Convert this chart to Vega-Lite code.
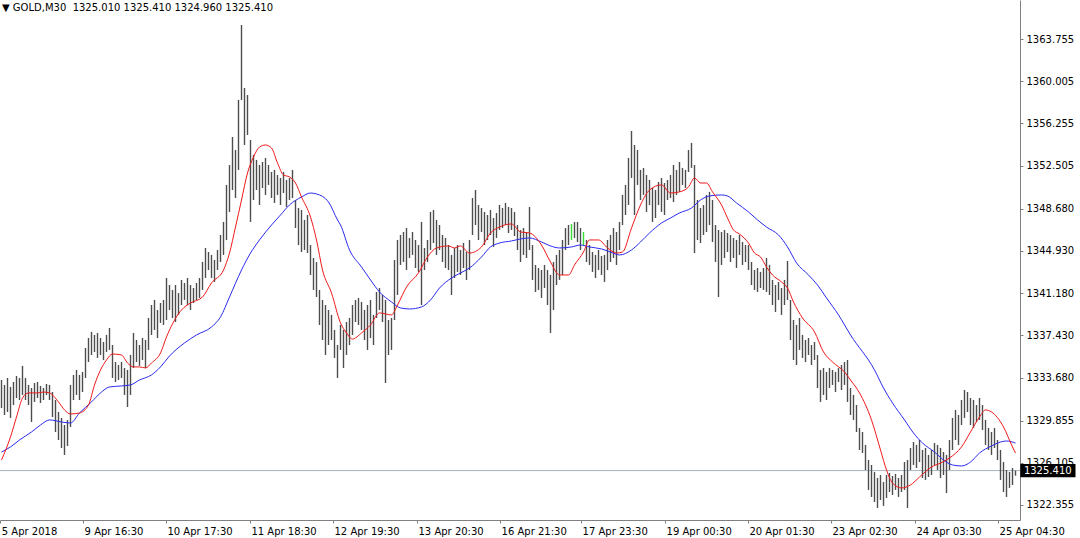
{
  "$schema": "https://vega.github.io/schema/vega-lite/v6.json",
  "width": 1020,
  "height": 520,
  "autosize": {"type": "none"},
  "padding": {"left": 0, "top": 0, "right": 60, "bottom": 18},
  "background": "white",
  "config": {"view": {"stroke": null}, "font": "DejaVu Sans"},
  "title": {"text": "▼ GOLD,M30\u00a0\u00a01325.010 1325.410 1324.960 1325.410", "anchor": "start", "frame": "group", "orient": "top", "offset": -13, "baseline": "top", "dx": 2, "fontSize": 10, "fontWeight": "normal", "font": "DejaVu Sans", "color": "#000000"},
  "datasets": {
    "bars": [
      {"i":0,"h":1333.46,"l":1330.97},{"i":1,"h":1333.02,"l":1330.35},{"i":2,"h":1333.64,"l":1330.62},{"i":3,"h":1332.84,"l":1330.09},{"i":4,"h":1333.28,"l":1331.24},{"i":5,"h":1333.82,"l":1331.86},{"i":6,"h":1333.64,"l":1331.68},{"i":7,"h":1334.71,"l":1332.13},{"i":8,"h":1333.64,"l":1331.68},{"i":9,"h":1333.02,"l":1331.24},
      {"i":10,"h":1332.75,"l":1329.73},{"i":11,"h":1333.19,"l":1331.51},{"i":12,"h":1333.28,"l":1331.86},{"i":13,"h":1332.93,"l":1331.42},{"i":14,"h":1332.75,"l":1331.68},{"i":15,"h":1333.11,"l":1332.13},{"i":16,"h":1333.02,"l":1331.68},{"i":17,"h":1332.39,"l":1330.17},{"i":18,"h":1331.68,"l":1328.84},{"i":19,"h":1330.62,"l":1328.13},
      {"i":20,"h":1330.09,"l":1327.42},{"i":21,"h":1329.46,"l":1326.80},{"i":22,"h":1329.91,"l":1327.60},{"i":23,"h":1333.02,"l":1329.29},{"i":24,"h":1333.91,"l":1331.68},{"i":25,"h":1334.35,"l":1332.13},{"i":26,"h":1333.91,"l":1331.68},{"i":27,"h":1334.17,"l":1332.39},{"i":28,"h":1336.30,"l":1333.64},{"i":29,"h":1337.19,"l":1335.06},
      {"i":30,"h":1337.73,"l":1335.68},{"i":31,"h":1337.46,"l":1335.95},{"i":32,"h":1337.64,"l":1335.42},{"i":33,"h":1337.19,"l":1335.68},{"i":34,"h":1336.84,"l":1335.24},{"i":35,"h":1337.46,"l":1335.95},{"i":36,"h":1338.08,"l":1336.13},{"i":37,"h":1336.57,"l":1333.64},{"i":38,"h":1335.06,"l":1333.28},{"i":39,"h":1334.79,"l":1333.46},
      {"i":40,"h":1335.06,"l":1333.64},{"i":41,"h":1334.53,"l":1332.13},{"i":42,"h":1334.35,"l":1331.06},{"i":43,"h":1335.68,"l":1332.13},{"i":44,"h":1337.64,"l":1334.53},{"i":45,"h":1337.01,"l":1335.06},{"i":46,"h":1336.57,"l":1334.71},{"i":47,"h":1337.19,"l":1335.24},{"i":48,"h":1337.01,"l":1334.53},{"i":49,"h":1338.97,"l":1336.13},
      {"i":50,"h":1340.12,"l":1337.46},{"i":51,"h":1340.57,"l":1337.90},{"i":52,"h":1339.68,"l":1337.19},{"i":53,"h":1340.30,"l":1338.53},{"i":54,"h":1340.57,"l":1338.35},{"i":55,"h":1342.52,"l":1338.79},{"i":56,"h":1341.90,"l":1339.68},{"i":57,"h":1341.46,"l":1338.97},{"i":58,"h":1341.90,"l":1338.61},{"i":59,"h":1341.19,"l":1339.24},
      {"i":60,"h":1342.35,"l":1340.12},{"i":61,"h":1342.08,"l":1340.57},{"i":62,"h":1342.52,"l":1340.12},{"i":63,"h":1341.90,"l":1339.68},{"i":64,"h":1341.63,"l":1340.30},{"i":65,"h":1342.08,"l":1340.57},{"i":66,"h":1342.52,"l":1340.75},{"i":67,"h":1343.94,"l":1341.46},{"i":68,"h":1345.19,"l":1342.52},{"i":69,"h":1344.83,"l":1343.23},
      {"i":70,"h":1344.57,"l":1342.52},{"i":71,"h":1344.12,"l":1342.17},{"i":72,"h":1345.01,"l":1343.23},{"i":73,"h":1346.34,"l":1343.94},{"i":74,"h":1347.50,"l":1344.57},{"i":75,"h":1350.79,"l":1345.90},{"i":76,"h":1352.56,"l":1348.39},{"i":77,"h":1355.05,"l":1350.34},{"i":78,"h":1353.89,"l":1349.63},{"i":79,"h":1358.34,"l":1352.12},
      {"i":80,"h":1365.00,"l":1358.34},{"i":81,"h":1359.40,"l":1354.34},{"i":82,"h":1358.78,"l":1355.23},{"i":83,"h":1354.78,"l":1347.50},{"i":84,"h":1353.45,"l":1349.45},{"i":85,"h":1353.01,"l":1350.34},{"i":86,"h":1352.56,"l":1349.01},{"i":87,"h":1352.83,"l":1350.52},{"i":88,"h":1353.18,"l":1349.90},{"i":89,"h":1352.56,"l":1350.79},
      {"i":90,"h":1351.94,"l":1349.63},{"i":91,"h":1352.12,"l":1349.19},{"i":92,"h":1351.67,"l":1349.90},{"i":93,"h":1351.41,"l":1349.01},{"i":94,"h":1351.94,"l":1350.07},{"i":95,"h":1351.23,"l":1348.83},{"i":96,"h":1351.41,"l":1349.45},{"i":97,"h":1352.12,"l":1349.63},{"i":98,"h":1349.45,"l":1346.96},{"i":99,"h":1348.74,"l":1345.45},
      {"i":100,"h":1348.56,"l":1344.83},{"i":101,"h":1347.68,"l":1345.01},{"i":102,"h":1348.12,"l":1344.74},{"i":103,"h":1345.45,"l":1342.79},{"i":104,"h":1344.30,"l":1341.46},{"i":105,"h":1343.94,"l":1340.83},{"i":106,"h":1341.46,"l":1338.35},{"i":107,"h":1340.57,"l":1337.01},{"i":108,"h":1340.12,"l":1335.68},{"i":109,"h":1339.68,"l":1336.57},
      {"i":110,"h":1339.24,"l":1337.01},{"i":111,"h":1337.90,"l":1335.42},{"i":112,"h":1336.57,"l":1333.64},{"i":113,"h":1338.35,"l":1336.13},{"i":114,"h":1337.90,"l":1334.53},{"i":115,"h":1338.61,"l":1335.68},{"i":116,"h":1338.97,"l":1336.57},{"i":117,"h":1340.12,"l":1337.46},{"i":118,"h":1340.57,"l":1338.61},{"i":119,"h":1340.75,"l":1338.35},
      {"i":120,"h":1340.39,"l":1337.90},{"i":121,"h":1339.68,"l":1337.01},{"i":122,"h":1340.12,"l":1336.13},{"i":123,"h":1340.57,"l":1337.19},{"i":124,"h":1339.24,"l":1336.57},{"i":125,"h":1341.28,"l":1338.97},{"i":126,"h":1341.63,"l":1339.68},{"i":127,"h":1341.01,"l":1338.61},{"i":128,"h":1340.57,"l":1333.19},{"i":129,"h":1338.79,"l":1335.68},
      {"i":130,"h":1338.97,"l":1336.13},{"i":131,"h":1344.12,"l":1338.79},{"i":132,"h":1345.90,"l":1341.01},{"i":133,"h":1346.34,"l":1343.68},{"i":134,"h":1346.61,"l":1343.94},{"i":135,"h":1346.96,"l":1343.23},{"i":136,"h":1346.08,"l":1344.30},{"i":137,"h":1346.61,"l":1344.57},{"i":138,"h":1345.90,"l":1343.41},{"i":139,"h":1345.45,"l":1343.06},
      {"i":140,"h":1347.50,"l":1340.12},{"i":141,"h":1345.19,"l":1343.23},{"i":142,"h":1345.90,"l":1343.94},{"i":143,"h":1348.39,"l":1345.01},{"i":144,"h":1348.56,"l":1345.63},{"i":145,"h":1347.68,"l":1344.57},{"i":146,"h":1347.23,"l":1345.01},{"i":147,"h":1346.34,"l":1343.94},{"i":148,"h":1346.08,"l":1343.41},{"i":149,"h":1345.45,"l":1343.23},
      {"i":150,"h":1344.57,"l":1341.01},{"i":151,"h":1345.19,"l":1342.52},{"i":152,"h":1345.45,"l":1343.06},{"i":153,"h":1345.01,"l":1342.79},{"i":154,"h":1345.63,"l":1343.41},{"i":155,"h":1344.83,"l":1342.35},{"i":156,"h":1345.90,"l":1343.23},{"i":157,"h":1349.63,"l":1346.34},{"i":158,"h":1350.34,"l":1347.23},{"i":159,"h":1349.01,"l":1345.90},
      {"i":160,"h":1348.74,"l":1346.61},{"i":161,"h":1348.39,"l":1345.45},{"i":162,"h":1348.12,"l":1345.90},{"i":163,"h":1348.56,"l":1346.34},{"i":164,"h":1347.85,"l":1345.28},{"i":165,"h":1348.30,"l":1346.08},{"i":166,"h":1349.01,"l":1346.79},{"i":167,"h":1348.74,"l":1346.96},{"i":168,"h":1349.19,"l":1347.23},{"i":169,"h":1348.83,"l":1346.52},
      {"i":170,"h":1348.74,"l":1346.79},{"i":171,"h":1348.39,"l":1346.25},{"i":172,"h":1347.23,"l":1345.01},{"i":173,"h":1346.79,"l":1343.94},{"i":174,"h":1346.96,"l":1344.57},{"i":175,"h":1346.61,"l":1344.30},{"i":176,"h":1348.83,"l":1345.01},{"i":177,"h":1345.45,"l":1342.35},{"i":178,"h":1343.68,"l":1341.28},{"i":179,"h":1343.41,"l":1341.46},
      {"i":180,"h":1343.23,"l":1340.75},{"i":181,"h":1343.68,"l":1341.63},{"i":182,"h":1343.23,"l":1340.12},{"i":183,"h":1342.79,"l":1337.64},{"i":184,"h":1343.94,"l":1339.68},{"i":185,"h":1344.57,"l":1341.90},{"i":186,"h":1345.01,"l":1342.35},{"i":187,"h":1345.90,"l":1342.79},{"i":188,"h":1346.96,"l":1345.01},{"i":189,"h":1347.23,"l":1345.45},
      {"i":190,"h":1347.32,"l":1345.90},{"i":191,"h":1347.50,"l":1346.08},{"i":192,"h":1347.50,"l":1345.72},{"i":193,"h":1346.96,"l":1345.01},{"i":194,"h":1346.61,"l":1345.45},{"i":195,"h":1345.90,"l":1343.94},{"i":196,"h":1345.45,"l":1343.68},{"i":197,"h":1344.83,"l":1343.06},{"i":198,"h":1344.57,"l":1342.52},{"i":199,"h":1345.01,"l":1343.23},
      {"i":200,"h":1344.48,"l":1342.79},{"i":201,"h":1344.57,"l":1342.17},{"i":202,"h":1345.90,"l":1343.23},{"i":203,"h":1346.34,"l":1343.94},{"i":204,"h":1346.96,"l":1344.30},{"i":205,"h":1346.61,"l":1343.68},{"i":206,"h":1347.50,"l":1345.01},{"i":207,"h":1349.90,"l":1347.23},{"i":208,"h":1350.79,"l":1348.12},{"i":209,"h":1353.18,"l":1349.01},
      {"i":210,"h":1355.58,"l":1351.41},{"i":211,"h":1354.34,"l":1348.12},{"i":212,"h":1353.89,"l":1350.79},{"i":213,"h":1352.12,"l":1349.45},{"i":214,"h":1352.30,"l":1349.90},{"i":215,"h":1351.67,"l":1348.39},{"i":216,"h":1351.23,"l":1349.01},{"i":217,"h":1350.52,"l":1347.50},{"i":218,"h":1350.34,"l":1347.85},{"i":219,"h":1351.05,"l":1349.01},
      {"i":220,"h":1351.41,"l":1348.39},{"i":221,"h":1350.96,"l":1348.12},{"i":222,"h":1351.23,"l":1349.45},{"i":223,"h":1351.67,"l":1349.63},{"i":224,"h":1352.56,"l":1349.27},{"i":225,"h":1352.12,"l":1349.90},{"i":226,"h":1352.83,"l":1350.17},{"i":227,"h":1352.30,"l":1350.79},{"i":228,"h":1352.12,"l":1350.52},{"i":229,"h":1353.89,"l":1351.94},
      {"i":230,"h":1354.52,"l":1352.30},{"i":231,"h":1352.56,"l":1344.74},{"i":232,"h":1349.45,"l":1345.90},{"i":233,"h":1348.74,"l":1345.63},{"i":234,"h":1349.01,"l":1346.34},{"i":235,"h":1349.90,"l":1346.61},{"i":236,"h":1350.17,"l":1347.23},{"i":237,"h":1349.45,"l":1345.72},{"i":238,"h":1347.23,"l":1343.94},{"i":239,"h":1346.79,"l":1340.83},
      {"i":240,"h":1346.61,"l":1343.68},{"i":241,"h":1346.79,"l":1344.30},{"i":242,"h":1346.52,"l":1344.83},{"i":243,"h":1346.34,"l":1343.94},{"i":244,"h":1346.08,"l":1344.30},{"i":245,"h":1345.90,"l":1343.41},{"i":246,"h":1346.34,"l":1344.57},{"i":247,"h":1345.72,"l":1343.68},{"i":248,"h":1345.45,"l":1343.94},{"i":249,"h":1345.45,"l":1343.23},
      {"i":250,"h":1343.94,"l":1341.90},{"i":251,"h":1343.23,"l":1341.46},{"i":252,"h":1343.41,"l":1341.28},{"i":253,"h":1343.06,"l":1341.63},{"i":254,"h":1343.41,"l":1341.46},{"i":255,"h":1344.30,"l":1341.28},{"i":256,"h":1343.68,"l":1341.01},{"i":257,"h":1342.35,"l":1340.12},{"i":258,"h":1341.90,"l":1339.50},{"i":259,"h":1342.17,"l":1340.57},
      {"i":260,"h":1341.63,"l":1339.24},{"i":261,"h":1342.35,"l":1340.12},{"i":262,"h":1344.03,"l":1340.57},{"i":263,"h":1340.57,"l":1337.01},{"i":264,"h":1338.79,"l":1335.24},{"i":265,"h":1338.35,"l":1334.79},{"i":266,"h":1338.97,"l":1336.13},{"i":267,"h":1337.46,"l":1335.42},{"i":268,"h":1337.01,"l":1335.06},{"i":269,"h":1337.19,"l":1335.68},
      {"i":270,"h":1336.57,"l":1334.79},{"i":271,"h":1336.84,"l":1335.24},{"i":272,"h":1335.68,"l":1332.75},{"i":273,"h":1334.35,"l":1331.51},{"i":274,"h":1334.53,"l":1332.13},{"i":275,"h":1334.17,"l":1331.68},{"i":276,"h":1334.53,"l":1332.75},{"i":277,"h":1334.35,"l":1333.02},{"i":278,"h":1334.17,"l":1332.39},{"i":279,"h":1334.53,"l":1333.28},
      {"i":280,"h":1334.79,"l":1332.57},{"i":281,"h":1335.06,"l":1333.02},{"i":282,"h":1335.24,"l":1331.51},{"i":283,"h":1332.75,"l":1330.35},{"i":284,"h":1332.13,"l":1329.91},{"i":285,"h":1331.24,"l":1328.84},{"i":286,"h":1329.20,"l":1327.24},{"i":287,"h":1328.84,"l":1326.97},{"i":288,"h":1327.69,"l":1325.46},{"i":289,"h":1326.35,"l":1323.69},
      {"i":290,"h":1325.91,"l":1323.07},{"i":291,"h":1325.29,"l":1322.62},{"i":292,"h":1324.75,"l":1322.09},{"i":293,"h":1325.02,"l":1322.80},{"i":294,"h":1324.40,"l":1322.27},{"i":295,"h":1325.02,"l":1322.98},{"i":296,"h":1325.20,"l":1323.51},{"i":297,"h":1324.93,"l":1323.24},{"i":298,"h":1325.11,"l":1323.69},{"i":299,"h":1324.75,"l":1323.07},
      {"i":300,"h":1325.02,"l":1323.51},{"i":301,"h":1326.17,"l":1323.69},{"i":302,"h":1326.35,"l":1322.09},{"i":303,"h":1327.42,"l":1325.46},{"i":304,"h":1327.95,"l":1325.91},{"i":305,"h":1327.69,"l":1325.64},{"i":306,"h":1328.13,"l":1326.17},{"i":307,"h":1327.24,"l":1324.75},{"i":308,"h":1327.42,"l":1324.58},{"i":309,"h":1326.80,"l":1324.84},
      {"i":310,"h":1327.24,"l":1325.02},{"i":311,"h":1327.86,"l":1325.91},{"i":312,"h":1327.69,"l":1325.46},{"i":313,"h":1327.42,"l":1324.75},{"i":314,"h":1327.06,"l":1325.02},{"i":315,"h":1326.80,"l":1323.42},{"i":316,"h":1328.13,"l":1325.46},{"i":317,"h":1330.09,"l":1327.24},{"i":318,"h":1330.80,"l":1328.13},{"i":319,"h":1330.35,"l":1327.69},
      {"i":320,"h":1331.68,"l":1329.46},{"i":321,"h":1332.57,"l":1330.09},{"i":322,"h":1332.39,"l":1330.62},{"i":323,"h":1331.86,"l":1329.46},{"i":324,"h":1331.68,"l":1329.20},{"i":325,"h":1331.24,"l":1329.73},{"i":326,"h":1331.86,"l":1329.91},{"i":327,"h":1331.24,"l":1329.02},{"i":328,"h":1329.91,"l":1327.69},{"i":329,"h":1329.20,"l":1327.24},
      {"i":330,"h":1328.84,"l":1326.80},{"i":331,"h":1329.20,"l":1327.42},{"i":332,"h":1328.13,"l":1326.35},{"i":333,"h":1327.24,"l":1324.58},{"i":334,"h":1326.17,"l":1323.51},{"i":335,"h":1325.46,"l":1323.07},{"i":336,"h":1325.29,"l":1323.87},{"i":337,"h":1325.64,"l":1324.13},{"i":338,"h":1325.41,"l":1324.96}
    ],
    "fast": [
      {"i":0,"v":1326.35},{"i":3,"v":1328.40},{"i":5,"v":1330.17},{"i":7,"v":1331.86},{"i":9,"v":1332.31},{"i":12,"v":1332.31},{"i":14,"v":1332.39},{"i":16,"v":1332.31},{"i":19,"v":1331.51},{"i":21,"v":1330.80},
      {"i":23,"v":1330.44},{"i":26,"v":1330.53},{"i":29,"v":1331.24},{"i":31,"v":1333.02},{"i":33,"v":1334.35},{"i":35,"v":1335.24},{"i":37,"v":1335.77},{"i":40,"v":1335.68},{"i":42,"v":1334.97},{"i":44,"v":1334.62},
      {"i":46,"v":1334.62},{"i":48,"v":1334.53},{"i":50,"v":1334.97},{"i":53,"v":1335.86},{"i":55,"v":1337.28},{"i":56,"v":1337.90},{"i":60,"v":1339.68},{"i":63,"v":1340.30},{"i":67,"v":1340.83},{"i":70,"v":1342.08},
      {"i":74,"v":1343.23},{"i":76,"v":1344.74},{"i":78,"v":1347.05},{"i":80,"v":1349.45},{"i":82,"v":1351.85},{"i":84,"v":1353.27},{"i":86,"v":1354.16},{"i":88,"v":1354.34},{"i":90,"v":1354.07},{"i":92,"v":1352.74},
      {"i":94,"v":1351.67},{"i":96,"v":1351.50},{"i":98,"v":1350.96},{"i":100,"v":1349.72},{"i":103,"v":1347.94},{"i":105,"v":1345.90},{"i":107,"v":1343.23},{"i":110,"v":1341.19},{"i":113,"v":1338.53},{"i":115,"v":1337.64},
      {"i":117,"v":1337.10},{"i":120,"v":1337.64},{"i":123,"v":1338.35},{"i":126,"v":1339.42},{"i":130,"v":1339.24},{"i":132,"v":1340.12},{"i":135,"v":1341.72},{"i":139,"v":1342.97},{"i":142,"v":1344.39},{"i":145,"v":1345.19},
      {"i":149,"v":1345.37},{"i":151,"v":1345.19},{"i":153,"v":1345.37},{"i":156,"v":1344.74},{"i":160,"v":1345.28},{"i":163,"v":1346.52},{"i":166,"v":1347.05},{"i":170,"v":1347.32},{"i":173,"v":1346.61},{"i":176,"v":1346.52},
      {"i":180,"v":1345.45},{"i":183,"v":1343.94},{"i":186,"v":1342.79},{"i":189,"v":1342.79},{"i":191,"v":1343.68},{"i":194,"v":1344.83},{"i":196,"v":1345.90},{"i":199,"v":1345.90},{"i":202,"v":1345.19},{"i":205,"v":1344.74},
      {"i":207,"v":1344.83},{"i":210,"v":1346.96},{"i":213,"v":1349.01},{"i":216,"v":1350.34},{"i":220,"v":1350.79},{"i":223,"v":1350.07},{"i":226,"v":1350.17},{"i":229,"v":1350.61},{"i":231,"v":1351.41},{"i":233,"v":1350.96},
      {"i":235,"v":1350.96},{"i":237,"v":1350.17},{"i":240,"v":1349.01},{"i":242,"v":1347.85},{"i":244,"v":1346.79},{"i":246,"v":1346.43},{"i":249,"v":1345.63},{"i":251,"v":1344.74},{"i":253,"v":1344.39},{"i":255,"v":1343.50},
      {"i":257,"v":1342.79},{"i":260,"v":1342.17},{"i":262,"v":1341.63},{"i":264,"v":1340.39},{"i":267,"v":1338.97},{"i":271,"v":1337.73},{"i":274,"v":1335.95},{"i":277,"v":1335.06},{"i":281,"v":1334.17},{"i":283,"v":1333.46},
      {"i":286,"v":1332.31},{"i":290,"v":1329.91},{"i":293,"v":1327.24},{"i":295,"v":1325.46},{"i":297,"v":1324.31},{"i":300,"v":1323.87},{"i":303,"v":1324.13},{"i":306,"v":1324.84},{"i":310,"v":1325.73},{"i":313,"v":1326.08},
      {"i":316,"v":1326.53},{"i":320,"v":1327.51},{"i":323,"v":1328.84},{"i":326,"v":1330.17},{"i":328,"v":1330.80},{"i":330,"v":1330.62},{"i":334,"v":1329.29},{"i":337,"v":1327.51},{"i":338,"v":1326.97}
    ],
    "slow": [
      {"i":0,"v":1327.06},{"i":3,"v":1327.51},{"i":6,"v":1328.13},{"i":10,"v":1328.84},{"i":13,"v":1329.46},{"i":16,"v":1329.91},{"i":20,"v":1329.73},{"i":23,"v":1329.64},{"i":26,"v":1330.53},{"i":30,"v":1331.51},
      {"i":33,"v":1332.31},{"i":36,"v":1332.84},{"i":40,"v":1332.93},{"i":43,"v":1333.02},{"i":46,"v":1333.46},{"i":50,"v":1333.91},{"i":53,"v":1334.62},{"i":56,"v":1335.59},{"i":61,"v":1336.75},{"i":65,"v":1337.46},
      {"i":70,"v":1338.17},{"i":73,"v":1339.06},{"i":76,"v":1340.83},{"i":80,"v":1343.23},{"i":83,"v":1344.74},{"i":86,"v":1345.90},{"i":90,"v":1347.23},{"i":93,"v":1348.12},{"i":96,"v":1349.01},{"i":100,"v":1349.72},
      {"i":103,"v":1350.07},{"i":105,"v":1349.99},{"i":109,"v":1349.27},{"i":112,"v":1347.68},{"i":113,"v":1347.23},{"i":116,"v":1345.01},{"i":120,"v":1343.50},{"i":123,"v":1342.35},{"i":126,"v":1341.28},{"i":130,"v":1340.39},
      {"i":133,"v":1339.86},{"i":136,"v":1339.77},{"i":140,"v":1339.95},{"i":143,"v":1340.57},{"i":146,"v":1341.63},{"i":150,"v":1342.52},{"i":153,"v":1342.97},{"i":156,"v":1343.41},{"i":160,"v":1344.39},{"i":163,"v":1345.28},
      {"i":166,"v":1345.63},{"i":170,"v":1345.81},{"i":173,"v":1345.99},{"i":176,"v":1346.08},{"i":180,"v":1345.72},{"i":183,"v":1345.37},{"i":186,"v":1345.19},{"i":190,"v":1345.28},{"i":193,"v":1345.45},{"i":196,"v":1345.28},
      {"i":200,"v":1345.10},{"i":203,"v":1344.83},{"i":206,"v":1344.57},{"i":210,"v":1345.01},{"i":213,"v":1345.72},{"i":216,"v":1346.52},{"i":220,"v":1347.41},{"i":223,"v":1347.85},{"i":226,"v":1348.30},{"i":230,"v":1348.74},
      {"i":233,"v":1349.45},{"i":236,"v":1349.81},{"i":240,"v":1349.90},{"i":242,"v":1349.81},{"i":245,"v":1349.19},{"i":249,"v":1348.39},{"i":252,"v":1347.68},{"i":255,"v":1347.05},{"i":259,"v":1346.34},{"i":262,"v":1345.28},
      {"i":265,"v":1343.86},{"i":269,"v":1342.79},{"i":272,"v":1341.90},{"i":275,"v":1340.75},{"i":279,"v":1339.24},{"i":283,"v":1337.46},{"i":291,"v":1334.35},{"i":294,"v":1332.75},{"i":297,"v":1331.42},{"i":301,"v":1329.91},
      {"i":304,"v":1328.75},{"i":307,"v":1327.86},{"i":311,"v":1327.06},{"i":314,"v":1326.35},{"i":317,"v":1325.91},{"i":320,"v":1325.82},{"i":323,"v":1326.17},{"i":326,"v":1326.97},{"i":330,"v":1327.60},{"i":333,"v":1327.95},
      {"i":335,"v":1328.04},{"i":338,"v":1327.86}
    ],
    "bid": [{"price": 1325.41, "label": "1325.410"}]
  },
  "layer": [
    {
      "data": {"name": "bid"},
      "mark": {"type": "rule", "color": "#aab2bb", "strokeWidth": 1},
      "encoding": {"y": {"field": "price", "type": "quantitative", "scale": {"domain": [1321.02, 1367.22], "nice": false, "zero": false}}}
    },
    {
      "data": {"name": "bars"},
      "mark": {"type": "rule", "strokeWidth": 1.4},
      "encoding": {
        "x": {
          "field": "i", "type": "quantitative",
          "scale": {"domain": [-0.5, 339.5], "nice": false, "zero": false},
          "axis": {
            "orient": "bottom", "title": null, "grid": false,
            "values": [-0.4, 27.2, 54.8, 82.8, 110.5, 138.5, 166.2, 193.2, 221.2, 248.8, 276.5, 304.5, 332.2],
            "labelExpr": "datum.value < 10 ? '5 Apr 2018' : datum.value < 40 ? '9 Apr 16:30' : datum.value < 70 ? '10 Apr 17:30' : datum.value < 100 ? '11 Apr 18:30' : datum.value < 120 ? '12 Apr 19:30' : datum.value < 150 ? '13 Apr 20:30' : datum.value < 180 ? '16 Apr 21:30' : datum.value < 210 ? '17 Apr 23:30' : datum.value < 235 ? '19 Apr 00:30' : datum.value < 260 ? '20 Apr 01:30' : datum.value < 290 ? '23 Apr 02:30' : datum.value < 320 ? '24 Apr 03:30' : '25 Apr 04:30'",
            "labelAlign": "left", "labelBaseline": "top", "labelPadding": 3, "labelOffset": 1,
            "labelFontSize": 10, "labelFont": "DejaVu Sans", "labelColor": "#000000",
            "labelOverlap": false, "labelFlush": false, "labelBound": false,
            "tickSize": 3, "tickColor": "#808080", "domainColor": "#808080", "domainWidth": 1
          }
        },
        "y": {
          "field": "h", "type": "quantitative",
          "scale": {"domain": [1321.02, 1367.22], "nice": false, "zero": false},
          "axis": {
            "orient": "right", "title": null, "grid": false,
            "values": [1363.755, 1360.005, 1356.255, 1352.505, 1348.68, 1344.93, 1341.18, 1337.43, 1333.68, 1329.855, 1326.105, 1322.355],
            "format": ".3f",
            "labelFontSize": 10, "labelFont": "DejaVu Sans", "labelColor": "#000000",
            "labelPadding": 3, "labelOverlap": false, "labelFlush": false,
            "tickSize": 3, "tickColor": "#808080", "domainColor": "#808080", "domainWidth": 1
          }
        },
        "y2": {"field": "l"},
        "color": {"condition": {"test": "datum.i == 190 || datum.i == 194", "value": "#33dd33"}, "value": "#4d4d4d"}
      }
    },
    {
      "data": {"name": "slow"},
      "mark": {"type": "line", "color": "#2a2af0", "strokeWidth": 1, "interpolate": "monotone"},
      "encoding": {"x": {"field": "i", "type": "quantitative"}, "y": {"field": "v", "type": "quantitative"}}
    },
    {
      "data": {"name": "fast"},
      "mark": {"type": "line", "color": "#f01a1a", "strokeWidth": 1, "interpolate": "monotone"},
      "encoding": {"x": {"field": "i", "type": "quantitative"}, "y": {"field": "v", "type": "quantitative"}}
    },
    {
      "data": {"name": "bid"},
      "mark": {"type": "rect", "color": "#000000"},
      "encoding": {
        "x": {"datum": 339.6},
        "x2": {"datum": 358.0},
        "y": {"datum": 1326.0},
        "y2": {"datum": 1324.82}
      }
    },
    {
      "data": {"name": "bid"},
      "mark": {"type": "text", "color": "#ffffff", "align": "left", "baseline": "middle", "fontSize": 10, "font": "DejaVu Sans"},
      "encoding": {
        "x": {"datum": 340.8},
        "y": {"field": "price", "type": "quantitative"},
        "text": {"field": "label"}
      }
    }
  ]
}
